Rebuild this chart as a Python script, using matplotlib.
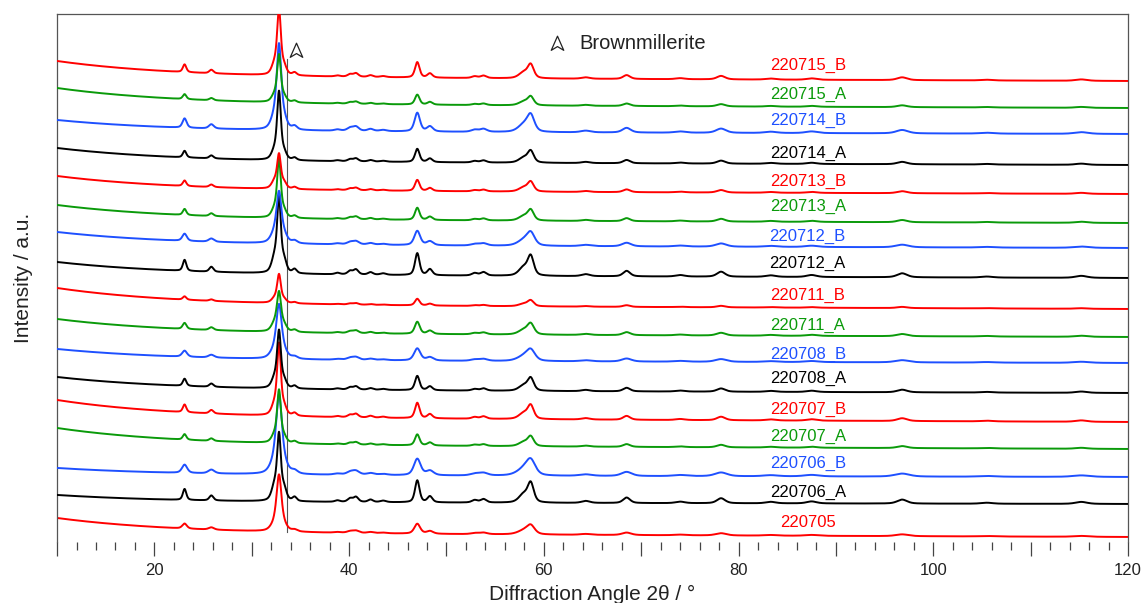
import numpy as np
import matplotlib
matplotlib.use('Agg')
import matplotlib.pyplot as plt
from matplotlib.path import Path

plt.rcParams['font.family'] = ['Liberation Sans', 'DejaVu Sans']

# samples, bottom to top
samples = ['220705', '220706_A', '220706_B', '220707_A', '220707_B', '220708_A',
           '220708_B', '220711_A', '220711_B', '220712_A', '220712_B', '220713_A',
           '220713_B', '220714_A', '220714_B', '220715_A', '220715_B']
red, black, blue, green = '#ff0000', '#000000', '#1e50ff', '#0a9a0a'
colors = [red, black, blue, green, red, black, blue, green, red,
          black, blue, green, red, black, blue, green, red]

# stacking offsets (level at 120 deg) and label heights, a.u.
offsets = [5, 38, 65, 93, 120, 149, 179, 205, 233, 264, 294, 319, 348, 377, 408, 434, 461]
label_y = [19, 50, 79, 106, 133, 164, 188, 217, 247, 279, 306, 336, 361, 389, 422, 448, 477]

# background drop from 10 deg to 120 deg
bg_drop = [19, 9, 9, 21, 22, 16, 14, 18, 21, 16, 16, 18, 18, 17, 14, 20, 20]

# main reflection height, scale of the other reflections, peak broadening
main_h = [52, 62, 70, 50, 68, 54, 48, 36, 27, 70, 45, 55, 32, 65, 78, 45, 62]
minor_scale = [0.45, 1.0, 0.75, 0.5, 0.7, 0.65, 0.55, 0.55, 0.3, 1.0, 0.65, 0.55,
               0.5, 0.6, 0.85, 0.45, 0.7]
width_fac = [1.3, 1.0, 1.5, 1.0, 1.0, 1.0, 1.4, 1.1, 1.0, 1.0, 1.3, 1.0, 1.0,
             1.0, 1.2, 1.0, 1.0]

# reflections (2theta), reference heights (220712_A), fwhm
peak_pos = [23.1, 25.85, 32.35, 33.3, 34.4, 38.8, 40.1, 40.7, 42.2, 43.5, 47.0,
            48.3, 52.9, 53.8, 57.9, 58.65, 64.3, 68.5, 74.0, 78.2, 83.3, 87.5,
            96.8, 105.5, 115.2]
peak_h = [11, 5, 15, 12, 4, 1.5, 3.5, 5, 2.5, 1.5, 22, 6, 2.5, 3.5, 8, 19, 2,
          5.5, 1.5, 5, 1.5, 2, 4, 1, 2]
peak_w = [0.42, 0.5, 0.7, 0.6, 0.5, 0.6, 0.6, 0.6, 0.6, 0.7, 0.55, 0.6, 0.7,
          0.7, 1.1, 0.75, 1.0, 0.85, 1.1, 1.0, 1.2, 1.2, 1.2, 1.4, 1.4]
main_pos = 32.8
main_w = 0.45

brown_pos = 33.6


def pv(x, c, h, w):
    g = np.exp(-4 * np.log(2) * ((x - c) / w) ** 2)
    l = 1 / (1 + 4 * ((x - c) / w) ** 2)
    return h * (0.5 * g + 0.5 * l)


x = np.arange(10, 120.001, 0.02)

fig = plt.figure(figsize=(11.43, 6.03), dpi=100)
ax = fig.add_axes([0.0499, 0.1012, 0.937, 0.8756])

ax.plot([brown_pos, brown_pos], [10, 483], color='#555555', lw=0.8, zorder=1)

for i, name in enumerate(samples):
    d = bg_drop[i]
    y = offsets[i] + 0.2 * d * (120 - x) / 110 + 0.8 * d * np.exp(-(x - 10) / 12)
    y = y + pv(x, main_pos, main_h[i], main_w * width_fac[i])
    for c, h, w in zip(peak_pos, peak_h, peak_w):
        y = y + pv(x, c, h * minor_scale[i], w * width_fac[i])
    ax.plot(x, y, color=colors[i], lw=1.4, zorder=2 + i)
    ax.text(87.1, label_y[i], name, color=colors[i], fontsize=12,
            ha='center', va='center', zorder=30)

tri = Path([(0, 1), (0.75, -0.7), (0, -0.25), (-0.75, -0.7), (0, 1)],
           [Path.MOVETO, Path.LINETO, Path.LINETO, Path.LINETO, Path.CLOSEPOLY])
ax.plot([34.5], [491], marker=tri, ms=12, mfc='white', mec='#222222', mew=0.9,
        ls='none', zorder=40)
ax.plot([61.3], [498], marker=tri, ms=12, mfc='white', mec='#222222', mew=0.9,
        ls='none', zorder=40)
ax.text(63.6, 498, 'Brownmillerite', fontsize=14.5, color='#222222',
        va='center', ha='left')

ax.set_xlim(10, 120)
ax.set_ylim(0, 528)
ax.set_yticks([])
ax.set_xticks(np.arange(10, 121, 10))
ax.set_xticklabels(['' if v % 20 else str(v) for v in range(10, 121, 10)])
ax.set_xticks(np.arange(10, 121, 2), minor=True)
ax.tick_params(axis='x', which='major', length=10, width=0.9, color='#444444',
               labelsize=12, labelcolor='#222222', pad=5)
ax.tick_params(axis='x', which='minor', length=6, width=0.9, color='#444444')
for s in ['left', 'top', 'right']:
    ax.spines[s].set_color('#555555')
    ax.spines[s].set_linewidth(0.9)
ax.spines['bottom'].set_visible(False)

ax.set_xlabel('Diffraction Angle 2θ / °', fontsize=15, color='#222222', labelpad=5)
ax.set_ylabel('Intensity / a.u.', fontsize=15, color='#222222', labelpad=17)

fig.savefig('out.png', dpi=100)
